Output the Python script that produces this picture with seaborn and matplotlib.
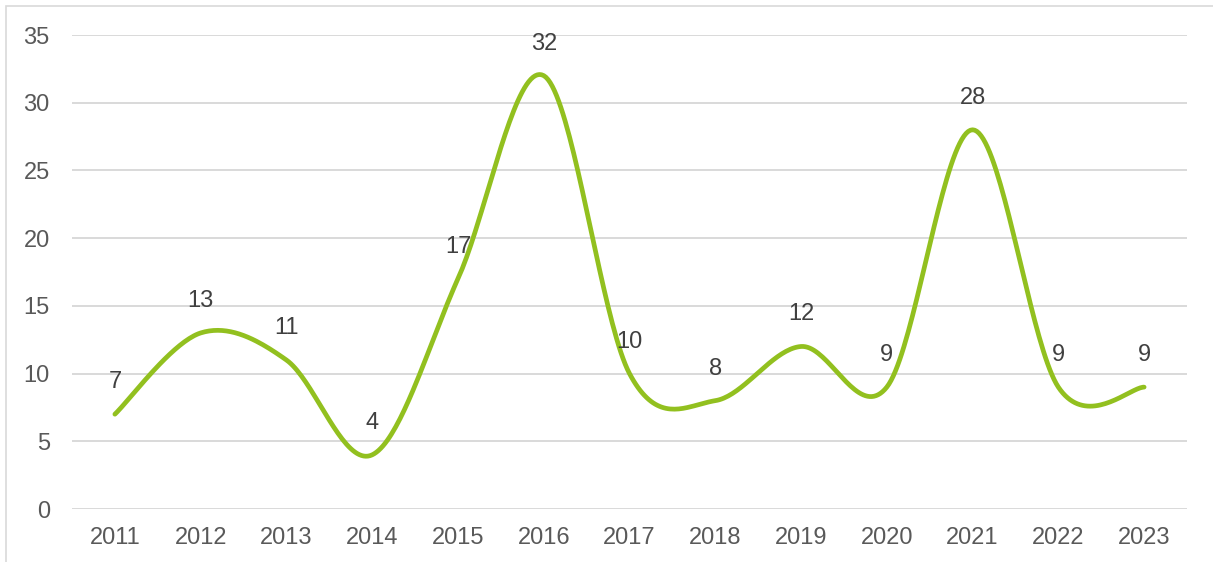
import numpy as np
import matplotlib
matplotlib.use("Agg")
import matplotlib.pyplot as plt
from matplotlib.patches import Rectangle
import seaborn as sns

years = ["2011", "2012", "2013", "2014", "2015", "2016", "2017",
         "2018", "2019", "2020", "2021", "2022", "2023"]
counts = [7, 13, 11, 4, 17, 32, 10, 8, 12, 9, 28, 9, 9]
y_ticks = [0, 5, 10, 15, 20, 25, 30, 35]

LINE_COLOR = "#92C01F"
GRID_COLOR = "#D9D9D9"
TICK_COLOR = "#595959"
LABEL_COLOR = "#404040"


def smooth_curve(y, steps=40):
    # Excel-style smoothed line: cubic Bezier segments with Catmull-Rom tangents
    y = np.asarray(y, dtype=float)
    x = np.arange(len(y), dtype=float)
    xs, ys = [], []
    n = len(y)
    for i in range(n - 1):
        i0, i3 = max(i - 1, 0), min(i + 2, n - 1)
        p0 = np.array([x[i], y[i]])
        p3 = np.array([x[i + 1], y[i + 1]])
        c1 = p0 + (np.array([x[i + 1], y[i + 1]]) - np.array([x[i0], y[i0]])) / 6
        c2 = p3 - (np.array([x[i3], y[i3]]) - np.array([x[i], y[i]])) / 6
        t = np.linspace(0, 1, steps, endpoint=(i == n - 2))[:, None]
        pts = ((1 - t) ** 3) * p0 + 3 * ((1 - t) ** 2) * t * c1 + 3 * (1 - t) * t ** 2 * c2 + t ** 3 * p3
        xs.extend(pts[:, 0])
        ys.extend(pts[:, 1])
    return np.array(xs), np.array(ys)


sns.set_theme(style="white")
plt.rcParams["font.family"] = ["Liberation Sans", "DejaVu Sans"]

W, H = 1213, 562
fig = plt.figure(figsize=(W / 100, H / 100), dpi=100)
ax = fig.add_axes([72 / W, (H - 509) / H, (1187 - 72) / W, (509 - 35) / H])

sx, sy = smooth_curve(counts)
sns.lineplot(x=sx, y=sy, ax=ax, color=LINE_COLOR, linewidth=3.4,
             estimator=None, sort=False, solid_capstyle="round")

for i, v in enumerate(counts):
    ax.annotate(str(v), (i, v), xytext=(0, 32), textcoords="offset pixels",
                ha="center", va="center", fontsize=17, color=LABEL_COLOR)

ax.set_xlim(-0.5, len(years) - 0.5)
ax.set_ylim(0, 35)
ax.set_xticks(range(len(years)))
ax.set_xticklabels(years)
ax.set_yticks(y_ticks)
ax.set_yticklabels([str(t) for t in y_ticks])
ax.tick_params(axis="both", length=0, labelsize=17, labelcolor=TICK_COLOR)
ax.tick_params(axis="x", pad=13)
ax.tick_params(axis="y", pad=16)

ax.grid(axis="y", color=GRID_COLOR, linewidth=1.4)
ax.set_axisbelow(True)
for side in ax.spines.values():
    side.set_visible(False)

# chart area border (cropped at right and bottom like the source)
fig.patches.append(Rectangle((6 / W, -0.1), 1.2, 1.1 - 6 / H, transform=fig.transFigure,
                             fill=False, edgecolor=GRID_COLOR, linewidth=1.2))

fig.savefig("out.png", dpi=100)
plt.close(fig)
